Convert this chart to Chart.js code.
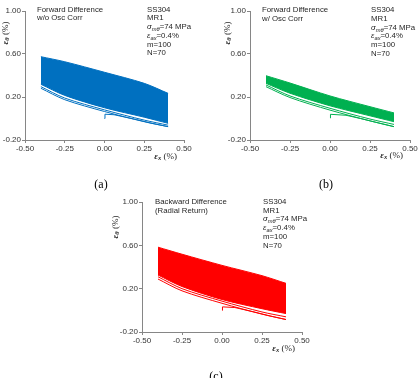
<!DOCTYPE html>
<html>
<head>
<meta charset="utf-8">
<script src="https://cdn.jsdelivr.net/npm/chart.js@4.4.1/dist/chart.umd.min.js"></script>
<style>
  body { margin: 0; background: #fff; }
  #page { position: relative; width: 420px; height: 378px; overflow: hidden; background: #fff; }
  .panel { position: absolute; }
  .note { position: absolute; font-family: "Liberation Sans", Arial, sans-serif; font-size: 7.8px; line-height: 8.75px; color: #262626; white-space: nowrap; }
  .note sub { font-size: 5.8px; line-height: 0; vertical-align: -1.8px; }
  .xt, .yt { position: absolute; font-family: "Liberation Serif", "Times New Roman", serif; font-size: 9px; color: #262626; white-space: nowrap; line-height: 1; }
  .xt { transform: translate(-100%, -50%); }
  .yt { transform: translate(-50%, -50%) rotate(-90deg); }
  .xt sub, .yt sub { font-size: 6.5px; line-height: 0; vertical-align: -1.5px; }
  .cap { position: absolute; font-family: "Liberation Serif", "Times New Roman", serif; font-size: 12px; color: #000; transform: translate(-50%, -50%); }
</style>
</head>
<body>
<div id="page">
  <canvas class="panel" id="chartA" width="200" height="170" style="left:0px;top:0px"></canvas>
  <canvas class="panel" id="chartB" width="195" height="170" style="left:225px;top:0px"></canvas>
  <canvas class="panel" id="chartC" width="200" height="171" style="left:117px;top:191px"></canvas>

  <div class="note" style="left:37px;top:5.6px">Forward Difference<br>w/o Osc Corr</div>
  <div class="note" style="left:147px;top:5.6px">SS304<br>MR1<br><i>σ</i><sub><i>mθ</i></sub>=74 MPa<br><i>ε</i><sub><i>ax</i></sub>=0.4%<br>m=100<br>N=70</div>
  <div class="xt" style="left:177px;top:156px"><b><i>ε</i></b><sub><b><i>x</i></b></sub> (%)</div>
  <div class="yt" style="left:4.5px;top:33px"><b><i>ε</i></b><sub><b><i>θ</i></b></sub> (%)</div>
  <div class="cap" style="left:101px;top:184px">(a)</div>

  <div class="note" style="left:262px;top:6px">Forward Difference<br>w/ Osc Corr</div>
  <div class="note" style="left:371px;top:6px">SS304<br>MR1<br><i>σ</i><sub><i>mθ</i></sub>=74 MPa<br><i>ε</i><sub><i>ax</i></sub>=0.4%<br>m=100<br>N=70</div>
  <div class="xt" style="left:403px;top:155px"><b><i>ε</i></b><sub><b><i>x</i></b></sub> (%)</div>
  <div class="yt" style="left:226.5px;top:33px"><b><i>ε</i></b><sub><b><i>θ</i></b></sub> (%)</div>
  <div class="cap" style="left:326px;top:184px">(b)</div>

  <div class="note" style="left:155px;top:197.8px">Backward Difference<br>(Radial Return)</div>
  <div class="note" style="left:263px;top:197.8px">SS304<br>MR1<br><i>σ</i><sub><i>mθ</i></sub>=74 MPa<br><i>ε</i><sub><i>ax</i></sub>=0.4%<br>m=100<br>N=70</div>
  <div class="xt" style="left:295px;top:348px"><b><i>ε</i></b><sub><b><i>x</i></b></sub> (%)</div>
  <div class="yt" style="left:115px;top:227px"><b><i>ε</i></b><sub><b><i>θ</i></b></sub> (%)</div>
  <div class="cap" style="left:216px;top:376px">(c)</div>
</div>
<script>
var strainX = [-0.4, -0.25, 0, 0.25, 0.4];

// (a) forward difference, w/o osc corr
var aTop = [0.575, 0.528, 0.43, 0.327, 0.234];
var aBottom = [0.318, 0.215, 0.10, 0.012, -0.045];
var aCycle1 = [0.281, 0.175, 0.065, -0.03, -0.076];
var aCycle2 = [0.296, 0.19, 0.08, -0.015, -0.062];
var aHookX = [0, 0.003, 0.06, 0.2, 0.3, 0.4];
var aHookY = [0, 0.04, 0.035, -0.01, -0.045, -0.076];

// (b) forward difference, w/ osc corr
var bTop = [0.398, 0.33, 0.21, 0.11, 0.052];
var bBottom = [0.327, 0.235, 0.118, 0.025, -0.03];
var bCycle1 = [0.296, 0.195, 0.078, -0.022, -0.076];
var bCycle2 = [0.312, 0.21, 0.095, -0.005, -0.055];
var bHookX = [0, 0.003, 0.1, 0.19, 0.3, 0.4];
var bHookY = [0.005, 0.039, 0.03, 0.0, -0.04, -0.076];

// (c) backward difference (radial return)
var cTop = [0.583, 0.518, 0.415, 0.32, 0.249];
var cBottom = [0.326, 0.22, 0.10, 0.015, -0.03];
var cCycle1 = [0.289, 0.18, 0.065, -0.035, -0.085];
var cCycle2 = [0.31, 0.2, 0.085, -0.015, -0.06];
var cHookX = [0, 0.003, 0.08, 0.2, 0.3, 0.4];
var cHookY = [0, 0.032, 0.026, -0.015, -0.052, -0.085];

var xTicks = [-0.5, -0.25, 0, 0.25, 0.5];
var yTicks = [-0.2, 0.2, 0.6, 1.0];

function pts(xs, ys) {
  return xs.map(function(x, i) { return {x: x, y: ys[i]}; });
}

function makeChart(id, color, top, bottom, hx, hy, rev, fwd, padRight) {
  var axisColor = '#868686';
  var tickFont = {family: 'Liberation Sans', size: 8};
  var line = {borderColor: color, borderWidth: 1, pointRadius: 0, fill: false, tension: 0.3};
  new Chart(document.getElementById(id), {
    type: 'line',
    data: {
      datasets: [
        Object.assign({}, line, {data: pts(strainX, top), backgroundColor: color, fill: '+1'}),
        Object.assign({}, line, {data: pts(strainX, bottom)}),
        Object.assign({}, line, {data: pts(strainX, rev)}),
        Object.assign({}, line, {data: pts(strainX, fwd)}),
        Object.assign({}, line, {data: pts(hx, hy), tension: 0})
      ]
    },
    options: {
      responsive: false,
      animation: false,
      layout: {padding: {left: 0, top: 11, right: padRight, bottom: 0}},
      plugins: {legend: {display: false}, tooltip: {enabled: false}},
      scales: {
        x: {
          type: 'linear', min: -0.5, max: 0.5,
          afterBuildTicks: function(s) { s.ticks = xTicks.map(function(v) { return {value: v}; }); },
          afterFit: function(s) { s.height = 30; },
          grid: {drawOnChartArea: false, tickLength: 3, color: axisColor},
          border: {color: axisColor},
          ticks: {font: tickFont, color: '#333333', padding: 1, maxRotation: 0,
            callback: function(v) { return v.toFixed(2); }}
        },
        y: {
          type: 'linear', min: -0.2, max: 1.0,
          afterBuildTicks: function(s) { s.ticks = yTicks.map(function(v) { return {value: v}; }); },
          afterFit: function(s) { s.width = 25; },
          grid: {drawOnChartArea: false, tickLength: 3, color: axisColor},
          border: {color: axisColor},
          ticks: {font: tickFont, color: '#333333', padding: 1,
            callback: function(v) { return v.toFixed(2); }}
        }
      }
    }
  });
}

makeChart('chartA', '#0070C0', aTop, aBottom, aHookX, aHookY, aCycle1, aCycle2, 16);
makeChart('chartB', '#00B050', bTop, bBottom, bHookX, bHookY, bCycle1, bCycle2, 10);
makeChart('chartC', '#FF0000', cTop, cBottom, cHookX, cHookY, cCycle1, cCycle2, 15);
</script>
</body>
</html>
